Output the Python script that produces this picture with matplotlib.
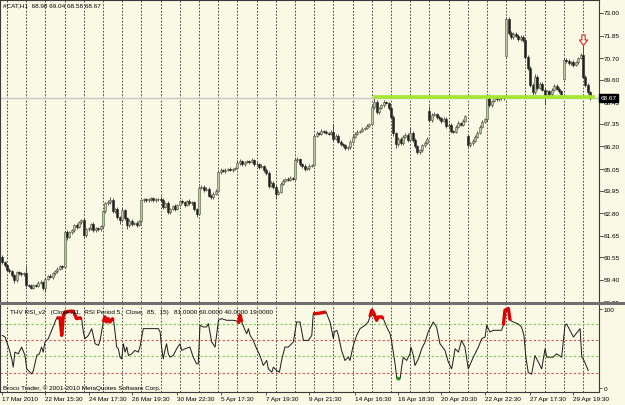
import matplotlib
matplotlib.use("Agg")
import matplotlib.pyplot as plt
from matplotlib.patches import Rectangle
from matplotlib.path import Path
from matplotlib.transforms import blended_transform_factory

W, H = 625, 406

# CAT H1 closes, one row per trading day (17 Mar tail ... 30 Apr head)
closes = [
    60.30, 60.15,
    59.93, 59.83, 59.63, 59.37, 59.78, 59.73, 59.68, 59.73,
    59.12, 59.10, 59.00, 59.12, 59.10, 59.25, 59.30, 59.00,
    59.45, 59.58, 59.55, 59.73, 59.83, 59.98, 60.09, 60.04,
    61.82, 61.60, 61.82, 61.92, 62.18, 62.08, 62.33, 62.43,
    61.67, 61.97, 62.02, 62.23, 61.92, 62.02, 61.97, 62.13,
    62.90, 63.30, 63.35, 63.45, 62.90, 63.00, 62.60, 62.45,
    62.95, 62.55, 62.20, 62.40, 62.25, 62.30, 62.20, 62.40,
    63.45, 63.50, 63.45, 63.50, 63.55, 63.45, 63.50, 63.50,
    63.45, 63.10, 63.30, 62.85, 63.00, 63.15, 63.00, 63.20,
    63.40, 63.35, 63.20, 63.40, 63.30, 63.35, 63.00, 62.75,
    64.10, 64.15, 64.00, 64.05, 63.70, 63.60, 63.80, 63.95,
    64.90, 65.00, 64.95, 65.00, 65.05, 65.00, 65.05, 65.10,
    65.35, 65.45, 65.30, 65.40, 65.45, 65.40, 65.50, 65.30,
    65.30, 65.15, 65.20, 65.00, 64.85, 64.20, 64.35, 64.15,
    63.80, 63.90, 64.30, 64.45, 64.55, 64.50, 64.60, 64.55,
    65.50, 65.55, 65.30, 65.20, 65.05, 65.10, 65.20, 65.25,
    66.75, 66.90, 66.85, 67.00, 66.95, 66.90, 66.85, 66.95,
    66.60, 66.75, 66.45, 66.30, 66.25, 66.10, 66.15, 66.45,
    66.70, 66.85, 66.95, 67.00, 67.10, 67.15, 67.25, 67.35,
    68.20, 68.45, 67.95, 68.15, 68.30, 68.45, 68.40, 68.15,
    67.70, 66.90, 66.30, 66.60, 66.35, 66.70, 66.80, 66.55,
    66.90, 66.55, 66.20, 65.90, 66.00, 66.25, 66.40, 66.60,
    67.55, 67.80, 67.85, 67.70, 67.65, 67.50, 67.60, 67.25,
    67.30, 67.00, 66.95, 67.20, 67.40, 67.30, 67.50, 67.75,
    66.25, 66.35, 66.50, 66.70, 66.90, 67.20, 67.45, 67.60,
    68.75, 68.30, 68.50, 68.65, 68.60, 68.70, 68.65, 68.70,
    72.70, 72.00, 71.75, 71.95, 71.85, 71.65, 71.80, 71.60,
    70.75, 70.20, 69.35, 68.95, 69.75, 69.20, 69.40, 69.10,
    68.80, 69.00, 68.85, 69.10, 69.30, 69.15, 69.00, 68.85,
    70.60, 70.55, 70.45, 70.50, 70.35, 70.50, 70.70, 70.85,
    69.75, 69.35, 68.98, 68.67,
]
# opens that do not follow the previous close (session gaps)
gap_opens = {0: 60.55, 178: 68.00, 194: 66.75, 210: 70.80, 234: 69.65}

wick_hi = [
    0.10, 0.08,
    0.08, 0.10, 0.08, 0.05, 0.08, 0.06, 0.06, 0.08,
    0.40, 0.06, 0.08, 0.06, 0.06, 0.08, 0.08, 0.06,
    0.05, 0.08, 0.10, 0.06, 0.06, 0.08, 0.08, 0.06,
    0.08, 0.10, 0.08, 0.06, 0.08, 0.10, 0.06, 0.08,
    0.10, 0.08, 0.10, 0.08, 0.10, 0.06, 0.08, 0.08,
    0.05, 0.08, 0.10, 0.15, 0.10, 0.08, 0.10, 0.08,
    0.10, 0.08, 0.08, 0.08, 0.10, 0.06, 0.08, 0.06,
    0.05, 0.06, 0.08, 0.06, 0.08, 0.06, 0.06, 0.08,
    0.15, 0.10, 0.08, 0.10, 0.08, 0.06, 0.10, 0.08,
    0.08, 0.10, 0.08, 0.06, 0.10, 0.06, 0.08, 0.06,
    0.10, 0.08, 0.10, 0.06, 0.08, 0.08, 0.06, 0.08,
    0.10, 0.08, 0.06, 0.08, 0.06, 0.08, 0.06, 0.06,
    0.15, 0.10, 0.08, 0.06, 0.08, 0.06, 0.10, 0.08,
    0.10, 0.08, 0.10, 0.06, 0.08, 0.08, 0.10, 0.08,
    0.06, 0.08, 0.10, 0.08, 0.06, 0.10, 0.08, 0.06,
    0.10, 0.10, 0.08, 0.06, 0.08, 0.06, 0.08, 0.08,
    0.05, 0.10, 0.06, 0.08, 0.06, 0.08, 0.06, 0.08,
    0.40, 0.08, 0.10, 0.06, 0.08, 0.06, 0.08, 0.06,
    0.08, 0.06, 0.08, 0.06, 0.08, 0.06, 0.08, 0.06,
    0.10, 0.25, 0.10, 0.08, 0.08, 0.10, 0.06, 0.08,
    0.10, 0.08, 0.06, 0.10, 0.08, 0.10, 0.08, 0.06,
    0.30, 0.10, 0.08, 0.06, 0.08, 0.08, 0.06, 0.08,
    0.25, 0.10, 0.08, 0.06, 0.08, 0.06, 0.10, 0.08,
    0.10, 0.08, 0.06, 0.08, 0.10, 0.06, 0.08, 0.06,
    0.05, 0.10, 0.08, 0.06, 0.08, 0.10, 0.08, 0.06,
    0.05, 0.10, 0.08, 0.06, 0.08, 0.06, 0.08, 0.06,
    0.10, 0.08, 0.10, 0.08, 0.06, 0.10, 0.08, 0.06,
    0.10, 0.10, 0.08, 0.10, 0.15, 0.10, 0.08, 0.10,
    0.10, 0.08, 0.10, 0.06, 0.10, 0.08, 0.06, 0.08,
    0.10, 0.10, 0.08, 0.06, 0.08, 0.06, 0.08, 0.10,
    0.60, 0.10, 0.08, 0.06,
]
wick_lo = [
    0.10, 0.10,
    0.08, 0.06, 0.10, 0.15, 0.06, 0.08, 0.08, 0.06,
    0.08, 0.08, 0.06, 0.08, 0.06, 0.08, 0.06, 0.10,
    0.20, 0.08, 0.06, 0.08, 0.06, 0.08, 0.06, 0.08,
    0.05, 0.15, 0.06, 0.08, 0.06, 0.08, 0.06, 0.06,
    0.08, 0.06, 0.08, 0.06, 0.10, 0.08, 0.06, 0.06,
    0.05, 0.08, 0.06, 0.08, 0.10, 0.08, 0.10, 0.20,
    0.06, 0.10, 0.20, 0.08, 0.10, 0.06, 0.08, 0.06,
    0.10, 0.06, 0.08, 0.06, 0.06, 0.08, 0.06, 0.06,
    0.08, 0.10, 0.06, 0.10, 0.08, 0.06, 0.10, 0.06,
    0.06, 0.08, 0.10, 0.06, 0.08, 0.06, 0.10, 0.15,
    0.05, 0.08, 0.10, 0.08, 0.10, 0.10, 0.06, 0.08,
    0.05, 0.08, 0.06, 0.08, 0.06, 0.06, 0.08, 0.06,
    0.06, 0.08, 0.10, 0.08, 0.06, 0.08, 0.06, 0.10,
    0.08, 0.10, 0.06, 0.10, 0.08, 0.10, 0.08, 0.10,
    0.30, 0.08, 0.06, 0.08, 0.06, 0.08, 0.06, 0.08,
    0.05, 0.08, 0.10, 0.08, 0.10, 0.06, 0.08, 0.06,
    0.05, 0.08, 0.06, 0.08, 0.06, 0.08, 0.06, 0.06,
    0.10, 0.08, 0.10, 0.08, 0.06, 0.10, 0.08, 0.06,
    0.06, 0.08, 0.06, 0.08, 0.06, 0.08, 0.06, 0.08,
    0.05, 0.08, 0.10, 0.08, 0.06, 0.08, 0.06, 0.10,
    0.10, 0.15, 0.20, 0.08, 0.10, 0.08, 0.06, 0.10,
    0.06, 0.10, 0.10, 0.10, 0.08, 0.06, 0.08, 0.06,
    0.10, 0.08, 0.06, 0.10, 0.08, 0.10, 0.06, 0.10,
    0.08, 0.10, 0.08, 0.06, 0.06, 0.08, 0.06, 0.06,
    0.10, 0.10, 0.08, 0.06, 0.08, 0.06, 0.08, 0.06,
    0.10, 0.10, 0.08, 0.06, 0.08, 0.06, 0.08, 0.06,
    0.05, 0.10, 0.08, 0.06, 0.10, 0.08, 0.06, 0.10,
    0.08, 0.10, 0.10, 0.15, 0.06, 0.10, 0.08, 0.10,
    0.45, 0.08, 0.10, 0.06, 0.08, 0.10, 0.08, 0.10,
    0.05, 0.08, 0.10, 0.08, 0.10, 0.06, 0.08, 0.06,
    0.05, 0.10, 0.10, 0.09,
]

price_labels = ["73.00", "71.85", "70.70", "69.60", "68.45", "67.35", "66.20",
                "65.05", "63.95", "62.80", "61.65", "60.55", "59.40", "58.25"]
last_price = 68.67
level_price = 68.72          # green horizontal line drawn by the trader
level_from, level_to = 154.5, 247.0
arrow_bar, arrow_price = 242, 71.62

date_ticks = [0, 18, 36, 54, 73, 91, 110, 128, 147, 165, 183, 201, 220, 238]
date_labels = ["17 Mar 2010", "22 Mar 15:30", "24 Mar 17:30", "26 Mar 19:30",
               "30 Mar 22:30", "5 Apr 17:30", "7 Apr 19:30", "9 Apr 21:30",
               "14 Apr 16:30", "16 Apr 18:30", "20 Apr 20:30", "22 Apr 22:30",
               "27 Apr 17:30", "29 Apr 19:30"]
day_starts = list(range(2, 246, 8))

# THV RSI_v2 line (bar index, value)
rsi_bar = [0, 1.2, 2.6, 4.0, 4.6, 5.3, 6.7, 8.1, 9.5, 10.2, 11.6, 12.3, 13.0, 14.4,
           15.5, 16.4, 17.1, 17.8, 19.2, 20.6, 22.0, 22.7, 24.1, 24.8, 25.5, 26.2,
           28.2, 29.6, 31.0, 32.4, 33.1, 33.8, 34.5, 35.9, 37.3, 38.7, 40.1, 40.8,
           42.1, 42.8, 43.5, 44.2, 44.9, 46.3, 47.0, 47.7, 48.4, 49.1, 49.8, 50.5,
           51.2, 51.9, 52.6, 54.0, 55.3, 56.7, 57.4, 58.8, 60.9, 63.0, 65.1, 65.8,
           66.4, 67.1, 67.8, 68.5, 69.2, 69.9, 71.3, 72.7, 74.1, 74.8, 76.2, 78.2,
           79.6, 81.0, 81.7, 82.4, 83.8, 85.2, 85.9, 87.3, 88.7, 90.1, 91.4, 93.5,
           96.3, 97.7, 98.4, 99.1, 99.8, 101.2, 101.9, 102.6, 103.3, 104.6, 106.0,
           107.4, 108.8, 110.2, 110.9, 112.3, 113.0, 114.4, 115.5, 116.4, 117.8,
           119.2, 121.3, 122.7, 124.1, 125.5, 127.6, 129.0, 129.6, 131.0, 133.8,
           134.9, 136.6, 138.0, 138.4, 139.4, 140.1, 141.4, 142.8, 144.2, 144.9,
           146.3, 147.7, 149.1, 151.2, 152.5, 153.2, 154.0, 154.6, 156.0, 156.7,
           158.1, 158.8, 160.2, 161.6, 162.3, 163.7, 164.4, 165.8, 166.4, 167.1,
           168.5, 169.9, 170.3, 171.3, 172.0, 173.4, 174.8, 176.2, 177.5, 179.6,
           181.0, 182.4, 184.5, 185.9, 187.3, 188.7, 190.1, 191.4, 192.8, 194.2,
           196.3, 198.4, 199.8, 201.2, 201.9, 203.2, 204.6, 206.0, 208.1, 208.8,
           209.5, 210.9, 211.6, 213.0, 215.0, 216.4, 217.4, 218.2, 219.2, 220.6,
           222.0, 223.4, 224.8, 226.2, 226.9, 228.3, 229.6, 231.0, 233.1, 234.5,
           235.2, 238.0, 240.8, 241.5, 242.1, 244.2]
rsi_val = [66.2, 64.1, 51.9, 36.7, 26.2, 45.1, 43.0, 51.5, 40.9, 24.1, 19.8, 17.7, 21.9, 40.9,
           43.0, 51.5, 45.1, 57.8, 62.0, 72.6, 83.1, 88.2, 88.2, 66.2, 91.6, 95.8,
           96.6, 96.6, 87.3, 88.2, 87.3, 70.5, 62.0, 66.2, 74.7, 55.7, 53.6, 59.9,
           83.1, 89.5, 83.1, 87.3, 83.1, 88.2, 70.5, 51.5, 49.4, 38.8, 36.7, 55.7,
           45.1, 51.5, 40.9, 43.0, 47.3, 45.1, 51.5, 74.7, 74.7, 74.7, 74.7, 70.5,
           51.5, 36.7, 47.3, 55.7, 43.0, 38.8, 40.9, 49.4, 55.7, 47.3, 49.4, 51.5,
           38.8, 30.4, 30.4, 78.9, 76.8, 76.8, 81.0, 57.8, 51.5, 85.2, 87.3, 85.2,
           85.2, 84.4, 81.0, 91.6, 83.1, 72.6, 68.4, 74.7, 66.2, 59.9, 49.4,
           40.9, 28.3, 34.6, 24.1, 19.8, 26.2, 21.9, 19.8, 34.6, 51.5,
           51.5, 57.8, 83.1, 83.1, 59.9, 59.9, 66.2, 93.7, 93.7, 95.0,
           95.8, 83.1, 62.0, 70.5, 72.6, 66.2, 47.3, 34.6, 38.8, 34.6,
           53.6, 66.2, 74.7, 78.9, 83.1, 89.5, 97.9, 95.8, 85.2, 89.5,
           89.5, 87.3, 76.8, 68.4, 57.8, 30.4, 12.2, 11.4, 25.7, 38.8,
           34.6, 43.0, 51.5, 40.9, 28.3, 36.7, 49.4, 57.8, 70.5, 83.1,
           76.8, 55.7, 47.3, 32.5, 24.1, 49.4, 45.1, 59.9, 51.5, 24.1,
           38.8, 51.5, 62.0, 64.1, 78.9, 70.5, 72.6, 72.6, 72.6, 78.9,
           97.9, 100.0, 85.2, 83.1, 80.6, 76.8, 66.2, 38.8, 19.4, 17.3,
           40.9, 32.5, 24.1, 49.4, 38.8, 38.8, 38.8, 43.0, 38.8, 78.9,
           80.6, 64.1, 74.7, 38.8, 36.7, 21.9]
red_spans = [(22.7, 33.1), (42.1, 46.3), (98.4, 99.8), (129.6, 134.9),
             (153.2, 158.8), (208.8, 211.6)]
green_spans = [(164.4, 165.8)]
rsi_levels = [81, 60, 40, 19]
rsi_level_colors = ["#74d04c", "#e0504a", "#74d04c", "#e0504a"]

bg = "#f9f9e5"
font = "Liberation Sans"
fs = 4.6

fig = plt.figure(figsize=(W / 100, H / 100), dpi=100, facecolor=bg)
ax = fig.add_axes([0, (H - 302.5) / H, 599 / W, 301.5 / H], facecolor=bg)
ax_r = fig.add_axes([0, (H - 393) / H, 599 / W, 87.5 / H], facecolor=bg)

xlim = (-0.917, 248.67)

# candles
opens = []
prev = closes[0]
for i, c in enumerate(closes):
    o = gap_opens.get(i, prev)
    opens.append(o)
    prev = c
for i in range(len(closes)):
    o, c = opens[i], closes[i]
    top, bot = max(o, c), min(o, c)
    bull = c >= o
    ax.vlines(i, bot - wick_lo[i], top + wick_hi[i], color="#3c3c3c", lw=0.6, zorder=3)
    ax.bar(i, max(top - bot, 0.015), bottom=bot, width=0.8,
           color="#bcc6a4" if bull else "#202020",
           edgecolor="#4a5638" if bull else "#202020", lw=0.4, zorder=4)

for d in day_starts:
    ax.axvline(d, color="#2a2a2a", lw=0.6, ls=(0, (2, 2)), zorder=1)
    ax_r.axvline(d, color="#2a2a2a", lw=0.6, ls=(0, (2, 2)), zorder=1)

ax.axhline(last_price, color="#c8c8c8", lw=1.0, zorder=2)
ax.hlines(level_price, level_from, level_to, color="#a4e632", lw=2.6, zorder=5)

# sell signal: outlined down arrow above the bar
arrow = Path([(-0.3, 1.0), (0.3, 1.0), (0.3, 0.1), (0.75, 0.1), (0.0, -0.9),
              (-0.75, 0.1), (-0.3, 0.1), (-0.3, 1.0)], closed=True)
ax.plot([arrow_bar], [arrow_price], marker=arrow, markersize=8, mfc=bg,
        mec="#e02828", mew=0.8, ls="none", zorder=6)

ax.set_xlim(*xlim)
ax.set_ylim(58.30, 73.66)
ax.set_xticks([])
ax.set_yticks([])
for s in ["top", "left", "right"]:
    ax.spines[s].set_color("#3a3a3a")
    ax.spines[s].set_linewidth(0.8)
ax.spines["bottom"].set_visible(False)

tr = blended_transform_factory(ax.transAxes, ax.transData)
for lab in price_labels:
    v = float(lab)
    ax.plot([1.0, 1.006], [v, v], color="#3a3a3a", lw=0.6, transform=tr, clip_on=False)
    ax.text(1.008, v, lab, transform=tr, fontsize=fs, family=font, va="center",
            ha="left", clip_on=False)
ax.text(1.002, last_price, "68.67", transform=tr, fontsize=fs, family=font,
        va="center", ha="left", color="white", clip_on=False, zorder=10,
        bbox=dict(facecolor="black", edgecolor="black", pad=1.2))

fig.text(3 / W, 1 - 6 / H, "#CAT,H1  68.98 69.04 68.58 68.67", fontsize=fs,
         family=font, va="center", ha="left")

# separator between windows
fig.patches.append(Rectangle((0, (H - 305.5) / H), 1, 3 / H, transform=fig.transFigure,
                             facecolor="#707070", edgecolor="none"))

# RSI window
for lv, col in zip(rsi_levels, rsi_level_colors):
    ax_r.axhline(lv, color=col, lw=0.8, ls=(0, (2, 2)), zorder=2)
ax_r.plot(rsi_bar, rsi_val, color="#1a1a1a", lw=0.7, zorder=4)
for a, b in red_spans:
    xs = [x for x in rsi_bar if a <= x <= b]
    ys = [v for x, v in zip(rsi_bar, rsi_val) if a <= x <= b]
    ax_r.plot(xs, ys, color="#e00000", lw=2.4, zorder=5, solid_capstyle="butt")
for a, b in green_spans:
    xs = [x for x in rsi_bar if a <= x <= b]
    ys = [v for x, v in zip(rsi_bar, rsi_val) if a <= x <= b]
    ax_r.plot(xs, ys, color="#10a010", lw=2.4, zorder=5, solid_capstyle="butt")

ax_r.set_xlim(*xlim)
ax_r.set_ylim(-5.1, 105.1)
ax_r.yaxis.tick_right()
ax_r.set_yticks([100, 0])
ax_r.set_yticklabels(["100", "0"])
ax_r.tick_params(axis="y", length=2, width=0.6, pad=1.5, labelsize=fs, colors="#3a3a3a",
                 labelcolor="black")
ax_r.set_xticks(date_ticks)
ax_r.set_xticklabels(date_labels, ha="left")
ax_r.tick_params(axis="x", length=2, width=0.6, pad=1.2, labelsize=fs, colors="#3a3a3a",
                 labelcolor="black")
for t in ax_r.get_xticklabels() + ax_r.get_yticklabels():
    t.set_family(font)
for s in ["bottom", "left", "right"]:
    ax_r.spines[s].set_color("#3a3a3a")
    ax_r.spines[s].set_linewidth(0.8)
ax_r.spines["top"].set_visible(False)

fig.text(10 / W, 1 - 313 / H,
         "THV RSI_v2   (Close,H1,  RSI Period 5,  Close,  85,  15)   81.0000 60.0000 40.0000 19.0000",
         fontsize=fs, family=font, va="center", ha="left")
fig.text(3 / W, 1 - 388 / H, "Broco Trader, \u00a9 2001-2010 MetaQuotes Software Corp.",
         fontsize=fs, family=font, va="center", ha="left")

fig.savefig("out.png", dpi=100, facecolor=bg)
